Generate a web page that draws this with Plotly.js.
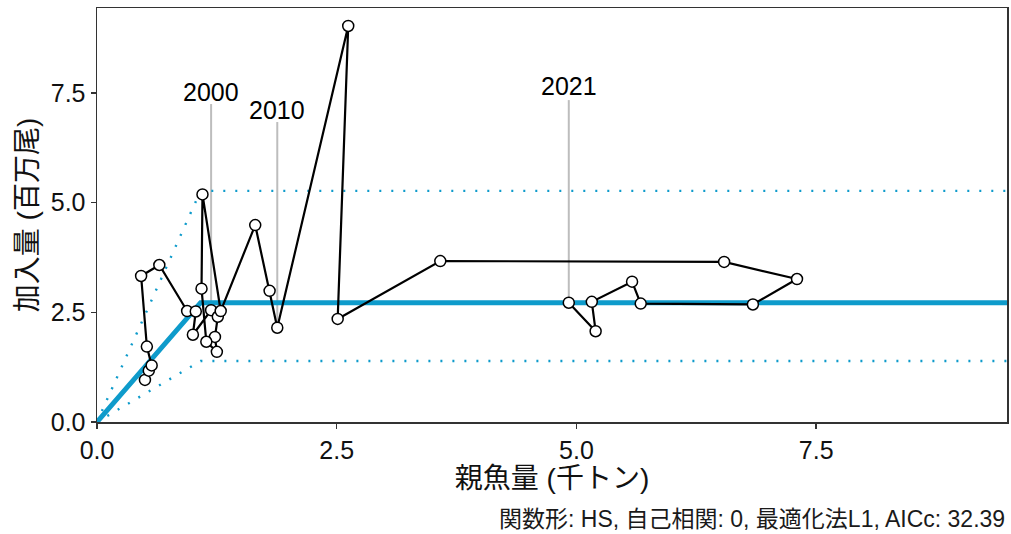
<!DOCTYPE html>
<html>
<head>
<meta charset="utf-8">
<script src="https://cdn.plot.ly/plotly-3.0.1.min.js"></script>
<style>html,body{margin:0;padding:0;background:#fff;}#chart{width:1011px;height:534px;}</style>
</head>
<body>
<div id="chart"></div>
<script>
// ---- data ----
const years = [1991,1992,1993,1994,1995,1996,1997,1998,1999,2000,
               2001,2002,2003,2004,2005,2006,2007,2008,2009,2010,
               2011,2012,2013,2014,2015,2016,2017,2018,2019,2020,2021];
const ssb = [0.50,0.54,0.57,0.52,0.46,0.65,0.94,1.03,1.00,1.19,
             1.26,1.23,1.25,1.14,1.09,1.10,1.29,1.65,1.80,1.88,
             2.62,2.51,3.58,6.54,7.30,6.84,5.67,5.58,5.16,5.20,4.92];
const rec = [0.96,1.17,1.29,1.72,3.33,3.58,2.53,2.52,1.99,2.55,
             2.40,1.94,1.60,1.83,3.04,5.19,2.53,4.49,2.99,2.15,
             9.03,2.35,3.67,3.65,3.26,2.68,2.70,3.20,2.74,2.07,2.72];
const labelYears = [2000, 2010, 2021];
// hockey-stick fit
const hsBreak = 1.08;      // SSB at break point (千トン)
const hsR = 2.72;          // plateau recruitment
const hsUpper = 5.27;      // upper band plateau
const hsLower = 1.39;      // lower band plateau
const xTicks = [0, 2.5, 5, 7.5];
const yTicks = [0, 2.5, 5, 7.5];
const xTitle = "親魚量 (千トン)";
const yTitle = "加入量 (百万尾)";
const caption = "関数形: HS, 自己相関: 0, 最適化法L1, AICc: 32.39";

// ---- styling / layout ----
const xMax = 9.49, yMax = 9.44;
const labelLift = {2000: [4.7, 4.97], 2010: [4.69, 4.96], 2021: [4.62, 4.94]}; // [line length, text offset] in y units
const FONT = "Liberation Sans, Arial, Noto Sans CJK JP, sans-serif";
const BLUE = "#0e9bcb";

function hsLine(level){ return {x:[0, hsBreak, xMax], y:[0, level, level]}; }

const traces = [];
[hsUpper, hsLower].forEach(v => {
  const l = hsLine(v);
  traces.push({x:l.x, y:l.y, mode:'lines', line:{color:BLUE, width:2.4, dash:'2px,10px'}, hoverinfo:'skip', showlegend:false});
});
const m = hsLine(hsR);
traces.push({x:m.x, y:m.y, mode:'lines', line:{color:BLUE, width:5}, hoverinfo:'skip', showlegend:false});

const shapes = [];
const annotations = [];
labelYears.forEach(yr => {
  const i = years.indexOf(yr);
  const lift = labelLift[yr];
  shapes.push({type:'line', xref:'x', yref:'y', x0:ssb[i], x1:ssb[i], y0:rec[i], y1:rec[i]+lift[0],
               line:{color:'#bdbdbd', width:2}, layer:'below'});
  annotations.push({xref:'x', yref:'y', x:ssb[i], y:rec[i]+lift[1], text:String(yr), showarrow:false,
               font:{family:FONT, size:25, color:'#000'}, xanchor:'center', yanchor:'middle'});
});
annotations.push({xref:'paper', yref:'paper', x:1.0, y:-0.234, xanchor:'right', yanchor:'middle', showarrow:false,
               text:caption, font:{family:FONT, size:23, color:'#1a1a1a'}});

traces.push({x:ssb, y:rec, text:years, mode:'lines+markers',
  line:{color:'#000', width:2.2},
  marker:{size:11, color:'#fff', line:{color:'#000', width:1.5}},
  showlegend:false, cliponaxis:false});

const axisBase = {
  showgrid:false, zeroline:false, showline:true, mirror:true, linecolor:'#333', linewidth:1.5,
  ticks:'outside', ticklen:5, tickwidth:1.5, tickcolor:'#333',
  tickfont:{family:FONT, size:25, color:'#111'}
};

const layout = {
  width:1011, height:534,
  margin:{l:97, r:4, t:8, b:112},
  paper_bgcolor:'#fff', plot_bgcolor:'#fff',
  font:{family:FONT},
  xaxis:Object.assign({}, axisBase, {range:[0, xMax], tickvals:xTicks, ticktext:xTicks.map(v=>v.toFixed(1)),
        title:{text:xTitle, font:{family:FONT, size:28, color:'#111'}, standoff:0}}),
  yaxis:Object.assign({}, axisBase, {range:[0, yMax], tickvals:yTicks, ticktext:yTicks.map(v=>v.toFixed(1)),
        title:{text:yTitle, font:{family:FONT, size:28, color:'#111'}, standoff:5}}),
  shapes:shapes, annotations:annotations, showlegend:false
};

Plotly.newPlot('chart', traces, layout, {staticPlot:true, displayModeBar:false});
</script>
</body>
</html>
